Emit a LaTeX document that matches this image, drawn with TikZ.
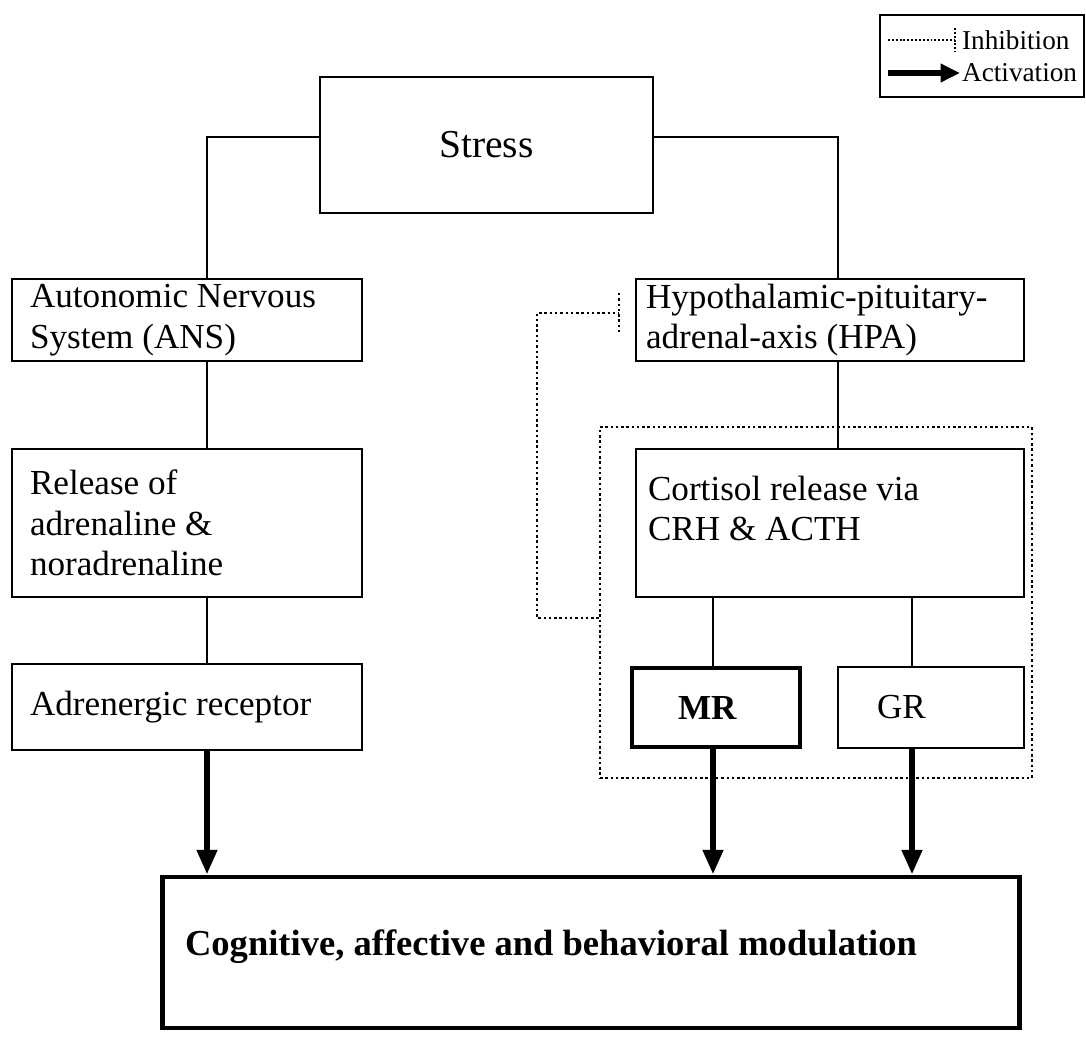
\documentclass[tikz,border=0pt]{standalone}
\usepackage{fontspec}
\setmainfont{Liberation Serif}
\usepackage{tikz}
\usetikzlibrary{positioning,arrows.meta,calc}

\begin{document}
\begin{tikzpicture}[x=0.02cm,y=-0.02cm,
  bx/.style={draw,line width=0.9pt,align=left,font=\fontsize{20}{23}\selectfont,
    inner ysep=2pt,execute at begin node={\spaceskip=\fontdimen2\font\relax}},
  tbx/.style={bx,line width=2.8pt,font=\fontsize{20}{23}\selectfont\bfseries},
  ln/.style={line width=0.9pt},
  a/.style={-{Triangle[length=14pt,width=11pt]},line width=3.4pt},
  inh/.style={line width=1.4pt,dash pattern=on 1.4pt off 1.6pt}]
  \useasboundingbox (0,0) rectangle (1086,1041);
  % boxes
  \node[bx,align=center,minimum width=6.66cm,minimum height=2.72cm,
    font=\fontsize{22.5}{26}\selectfont] (stress) at (486.5,145) {Stress};
  \node[bx,inner xsep=0.36cm,text width=6.28cm,minimum height=1.64cm] (ans) at (187,320)
    {Autonomic Nervous\\System (ANS)};
  \node[bx,inner xsep=0.36cm,text width=6.28cm,minimum height=2.96cm] (rel) at (187,523)
    {Release of\\adrenaline \&\\noradrenaline};
  \node[bx,inner xsep=0.36cm,text width=6.28cm,minimum height=1.72cm] (adr) at (187,707)
    {Adrenergic receptor};
  \node[bx,inner xsep=0.2cm,text width=7.36cm,minimum height=1.64cm] (hpa) at (830,320)
    {Hypothalamic-pituitary-\\adrenal-axis (HPA)};
  \node[draw,inh,minimum width=8.64cm,minimum height=7.02cm] (grp) at (816,602.5) {};
  \node[bx,inner xsep=0.24cm,text width=7.28cm,minimum height=2.96cm] (cort) at (830,523)
    {Cortisol release via\\CRH \& ACTH\\[-6pt]\mbox{}};
  \node[tbx,inner xsep=0.92cm,text width=1.52cm,minimum height=1.58cm] (mr) at (716,707.5) {MR};
  \node[bx,inner xsep=0.78cm,text width=2.16cm,minimum height=1.62cm] (gr) at (931,707.5) {GR};
  \node[tbx,inner xsep=0.46cm,text width=16.24cm,minimum height=3.02cm,
    font=\fontsize{20.8}{25}\selectfont\bfseries] (cog) at (591,952.5)
    {Cognitive, affective and behavioral modulation\\[-14pt]\mbox{}};
  % legend
  \node[draw,ln,minimum width=4.08cm,minimum height=1.64cm] (leg) at (982,56) {};
  \node[anchor=west,inner sep=1pt,font=\fontsize{15.5}{18}\selectfont] (inhtxt) at (960,40) {Inhibition};
  \node[anchor=west,inner sep=1pt,font=\fontsize{15.5}{18}\selectfont] (acttxt) at (960,73) {Activation};
  \coordinate (inhs) at (888,40);
  \coordinate (acts) at (888,73);
  \draw[inh,line width=1.1pt,dash pattern=on 1.1pt off 1.1pt] (inhs) -- ([xshift=-0.1cm]inhtxt.west)
    ([xshift=-0.1cm,yshift=0.24cm]inhtxt.west) -- ([xshift=-0.1cm,yshift=-0.24cm]inhtxt.west);
  \draw[-{Triangle[length=11pt,width=10pt]},line width=3.6pt] (acts) -- (acttxt.west);
  % columns
  \coordinate (lx) at (207,0);
  \coordinate (rx) at (838,0);
  \coordinate (gx) at (912,0);
  \coordinate (mx) at (713,0);
  % connectors
  \draw[ln] ([yshift=0.16cm]stress.west) -| (ans.north -| lx);
  \draw[ln] ([yshift=0.16cm]stress.east) -| (hpa.north -| rx);
  \draw[ln] (ans.south -| lx) -- (rel.north -| lx);
  \draw[ln] (rel.south -| lx) -- (adr.north -| lx);
  \draw[ln] (hpa.south -| rx) -- (cort.north -| rx);
  \draw[ln] (cort.south -| mx) -- (mr.north -| mx);
  \draw[ln] (cort.south -| gx) -- (gr.north -| gx);
  \draw[a] (adr.south -| lx) -- (cog.north -| lx);
  \draw[a] (mr.south -| mx) -- (cog.north -| mx);
  \draw[a] (gr.south -| gx) -- (cog.north -| gx);
  % inhibition feedback
  \coordinate (fb) at (537,313);
  \coordinate (tk) at (619,313);
  \draw[inh] ([yshift=-0.31cm]grp.west) -| (fb) -- (tk);
  \draw[inh] ([yshift=0.4cm]tk) -- ([yshift=-0.4cm]tk);
\end{tikzpicture}
\end{document}
